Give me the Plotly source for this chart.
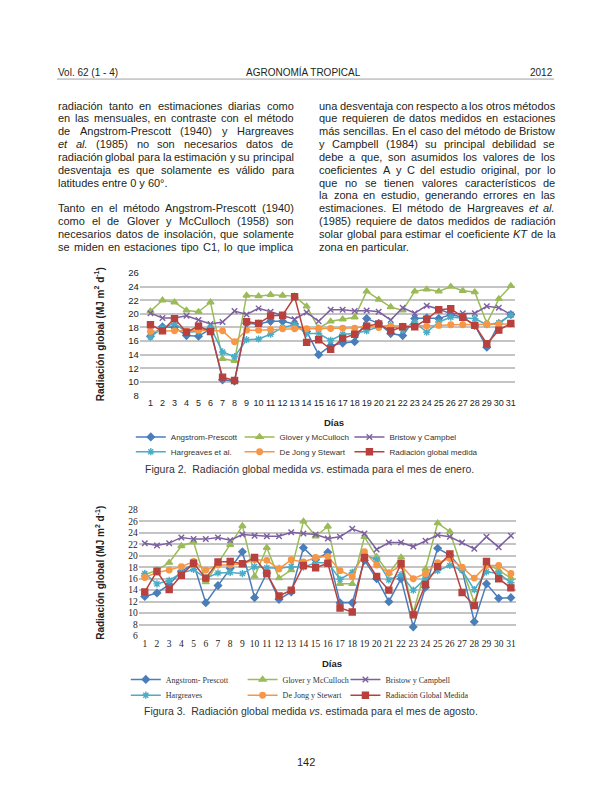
import plotly.graph_objects as go

# ---------------- data ----------------
days = list(range(1, 32))

jan_angstrom = [16.7, 18.1, 18.0, 16.8, 16.7, 17.8, 10.3, 10.1, 18.6, 18.5, 18.9, 18.9, 18.5, 17.4, 14.0, 15.3,
                15.7, 15.9, 19.3, 18.6, 17.1, 16.8, 19.3, 19.4, 19.3, 19.9, 19.5, 18.3, 15.1, 18.5, 19.9]
jan_glover = [20.4, 22.0, 21.7, 20.5, 20.3, 21.7, 13.4, 13.1, 22.7, 22.6, 22.8, 22.7, 22.6, 21.1, 17.9, 18.9,
              19.2, 19.5, 23.3, 22.1, 21.0, 20.5, 23.3, 23.6, 23.3, 24.0, 23.4, 23.2, 18.6, 22.2, 24.1]
jan_bristow = [20.1, 19.4, 19.4, 19.7, 19.1, 18.5, 18.8, 20.4, 19.9, 20.8, 20.3, 19.7, 19.2, 20.2, 18.9, 20.6,
               20.6, 20.4, 20.5, 20.3, 19.1, 20.9, 20.1, 21.2, 20.7, 20.0, 20.1, 20.1, 21.1, 20.9, 19.9]
jan_hargreaves = [16.6, 17.9, 18.6, 17.3, 17.4, 18.0, 14.4, 13.7, 16.2, 16.3, 17.0, 18.0, 18.4, 17.1, 17.1, 16.1,
                  17.0, 17.1, 17.5, 18.1, 18.3, 17.6, 18.8, 17.3, 18.8, 19.5, 19.4, 19.3, 18.4, 18.7, 19.8]
jan_dejong = [17.4, 17.5, 17.5, 17.5, 17.6, 17.5, 17.5, 15.9, 17.6, 17.6, 17.7, 17.8, 17.8, 17.8, 17.85, 17.85,
              17.9, 17.9, 18.2, 18.0, 18.2, 18.2, 18.2, 18.2, 18.3, 18.4, 18.4, 18.4, 18.5, 18.5, 18.5]
jan_medida = [18.4, 17.5, 19.3, 17.3, 18.2, 17.4, 10.7, 10.2, 18.85, 18.6, 19.7, 19.8, 22.5, 15.8, 16.2, 14.8,
              16.4, 17.0, 18.2, 18.5, 17.5, 18.1, 18.1, 19.2, 20.6, 20.75, 19.5, 18.3, 15.6, 17.6, 18.6]

aug_angstrom = [12.9, 13.5, 15.0, 17.3, 18.6, 11.8, 14.8, 17.8, 20.7, 12.7, 17.0, 12.4, 13.7, 21.4, 19.3, 20.6,
                11.8, 11.8, 19.2, 16.0, 12.0, 16.0, 7.6, 14.5, 21.3, 20.1, 17.6, 8.5, 15.1, 12.6, 12.7]
aug_glover = [16.7, 17.5, 18.8, 21.7, 22.4, 15.4, 18.7, 21.9, 25.2, 16.4, 21.4, 16.1, 17.5, 26.0, 23.4, 25.1,
              15.1, 15.1, 23.3, 19.8, 17.0, 19.7, 10.1, 17.7, 25.7, 24.2, 17.8, 11.9, 18.6, 17.5, 16.1]
aug_bristow = [22.2, 21.8, 22.2, 23.2, 22.9, 22.9, 23.2, 22.7, 23.7, 23.5, 23.4, 23.4, 24.1, 23.9, 23.7, 23.0,
               23.3, 24.7, 23.9, 21.1, 22.3, 22.3, 21.6, 22.6, 23.6, 23.3, 22.3, 21.2, 23.3, 21.5, 23.5]
aug_hargreaves = [16.9, 15.1, 15.7, 17.0, 17.6, 16.1, 17.0, 17.1, 16.9, 18.1, 17.9, 17.8, 18.1, 18.0, 18.8, 18.8,
                  15.9, 17.1, 20.2, 19.3, 15.8, 16.7, 14.0, 16.0, 17.4, 18.3, 17.5, 14.1, 17.2, 16.9, 15.3]
aug_dejong = [16.2, 17.1, 17.5, 18.1, 19.0, 17.5, 18.4, 18.4, 18.6, 19.3, 19.2, 17.7, 19.3, 18.9, 19.7, 19.9,
              17.4, 16.4, 20.7, 18.4, 17.0, 18.3, 16.0, 16.9, 18.8, 19.5, 18.0, 16.1, 18.3, 18.3, 16.9]
aug_medida = [13.7, 17.3, 14.1, 16.6, 18.7, 16.1, 18.9, 19.0, 18.6, 19.7, 16.9, 13.0, 14.0, 18.3, 17.9, 18.7,
              10.9, 10.2, 19.7, 16.4, 14.0, 18.6, 9.7, 15.0, 18.1, 20.3, 13.6, 11.3, 19.0, 16.0, 14.4]

names_jan = ["Angstrom-Prescott", "Glover y McCulloch", "Bristow y Campbel",
             "Hargreaves et al.", "De Jong y Stewart", "Radiación global medida"]
names_aug = ["Angstrom- Prescott", "Glover y McCulloch", "Bristow y Campbell",
             "Hargreaves", "De Jong y Stewart", "Radiación Global Medida"]

header_left = "Vol. 62 (1 - 4)"
header_center = "AGRONOMÍA TROPICAL"
header_right = "2012"
page_number = "142"
y_title = "<b>Radiación global (MJ m<sup>2</sup> d<sup>-1</sup>)</b>"
x_title = "<b>Días</b>"
caption_jan = "Figura 2.  Radiación global medida <i>vs</i>. estimada para el mes de enero."
caption_aug = "Figura 3.  Radiación global medida <i>vs</i>. estimada para el mes de agosto."

left_lines = [
    ("radiación tanto en estimaciones diarias como", True),
    ("en las mensuales, en contraste con el método", True),
    ("de Angstrom-Prescott (1940) y Hargreaves", True),
    ("<i>et</i> <i>al.</i> (1985) no son necesarios datos de", True),
    ("radiación global para la estimación y su principal", True),
    ("desventaja es que solamente es válido para", True),
    ("latitudes entre 0 y 60°.", False),
    None,
    ("Tanto en el método Angstrom-Prescott (1940)", True),
    ("como el de Glover y McCulloch (1958) son", True),
    ("necesarios datos de insolación, que solamente", True),
    ("se miden en estaciones tipo C1, lo que implica", True),
]
right_lines = [
    ("una desventaja con respecto a los otros métodos", True),
    ("que requieren de datos medidos en estaciones", True),
    ("más sencillas. En el caso del método de Bristow", True),
    ("y Campbell (1984) su principal debilidad se", True),
    ("debe a que, son asumidos los valores de los", True),
    ("coeficientes A y C del estudio original, por lo", True),
    ("que no se tienen valores característicos de", True),
    ("la zona en estudio, generando errores en las", True),
    ("estimaciones. El método de Hargreaves <i>et</i> <i>al.</i>", True),
    ("(1985) requiere de datos medidos de radiación", True),
    ("solar global para estimar el coeficiente <i>KT</i> de la", True),
    ("zona en particular.", False),
]

# ---------------- helpers ----------------
# The page body keeps its default 8 px margin, so the figure is 16 px smaller
# than the 612x792 window and page coordinates are shifted by 8 px.
OFF = 8
W, H = 612 - 2 * OFF, 792 - 2 * OFF
def px(x): return (x - OFF) / W
def py(y): return 1 - (y - OFF) / H

AW = {' ': 278, '!': 278, '(': 333, ')': 333, ',': 278, '-': 333, '.': 278, ':': 278, ';': 278, '°': 400,
      'A': 667, 'B': 667, 'C': 722, 'D': 722, 'E': 667, 'F': 611, 'G': 778, 'H': 722, 'I': 278, 'J': 500,
      'K': 667, 'L': 556, 'M': 833, 'N': 722, 'O': 778, 'P': 667, 'Q': 778, 'R': 722, 'S': 667, 'T': 611,
      'U': 722, 'V': 667, 'W': 944, 'X': 667, 'Y': 667, 'Z': 611,
      'a': 556, 'b': 556, 'c': 500, 'd': 556, 'e': 556, 'f': 278, 'g': 556, 'h': 556, 'i': 222, 'j': 222,
      'k': 500, 'l': 222, 'm': 833, 'n': 556, 'o': 556, 'p': 556, 'q': 556, 'r': 333, 's': 500, 't': 278,
      'u': 556, 'v': 500, 'w': 722, 'x': 500, 'y': 500, 'z': 500,
      'á': 556, 'é': 556, 'í': 278, 'ó': 556, 'ú': 556, 'ñ': 556}

def tw(s, size):
    s = s.replace('<i>', '').replace('</i>', '')
    return sum(AW.get(c, 556) for c in s) * size / 1000

SANS = "Liberation Sans, Arial, sans-serif"
SERIF = "Liberation Serif, Times New Roman, serif"
TEXT_C = "#231f20"
BODY_SIZE = 11

annotations = []
def add_text(text, x, y, size=BODY_SIZE, color=TEXT_C, xanchor="left", family=SANS, angle=0):
    annotations.append(dict(text=text, x=px(x), y=py(y), xref="paper", yref="paper", showarrow=False,
                            xanchor=xanchor, yanchor="middle", textangle=angle, borderpad=0,
                            font=dict(family=family, size=size, color=color)))

def column(lines, x0, x1, y0, step):
    for i, item in enumerate(lines):
        if item is None:
            continue
        text, just = item
        y = y0 + i * step
        words = text.split(' ')
        if just and len(words) > 1:
            widths = [tw(w, BODY_SIZE) for w in words]
            gap = (x1 - x0 - sum(widths)) / (len(words) - 1)
            x = x0
            for wd, w in zip(words, widths):
                add_text(wd, x, y)
                x += w + gap
        else:
            add_text(text, x0, y)

column(left_lines, 57, 293, 101, 13.0)
column(right_lines, 319, 555, 101, 13.0)

# header, footer
add_text(header_left, 57, 67, size=10)
add_text(header_center, 304, 67, size=10, xanchor="center")
add_text(header_right, 555, 67, size=10, xanchor="right")
add_text(page_number, 306, 767, size=11, xanchor="center")

# axis titles / captions
add_text(y_title, 100, 333, size=10, xanchor="center", angle=-90, color="#222")
add_text(y_title, 100, 575, size=10, xanchor="center", angle=-90, color="#222")
add_text(x_title, 335, 422, size=9.5, xanchor="center", color="#222")
add_text(x_title, 333, 667, size=9.5, xanchor="center", color="#222")
add_text(caption_jan, 310, 470, size=10.5, xanchor="center", color="#333")
add_text(caption_aug, 312, 715, size=10.5, xanchor="center", color="#333")

# ---------------- figure ----------------
colors = ["#4A7EBB", "#9BBB59", "#7D60A0", "#4BACC6", "#F79646", "#B8413E"]
symbols = ["diamond", "triangle-up", "x-thin-open", "asterisk-open", "circle", "square"]
sizes = [5.5, 6, 5.5, 6, 5.5, 6]

fig = go.Figure()

jan_series = [jan_angstrom, jan_glover, jan_bristow, jan_hargreaves, jan_dejong, jan_medida]
aug_series = [aug_angstrom, aug_glover, aug_bristow, aug_hargreaves, aug_dejong, aug_medida]

def leg(n):
    return "legend" if n == 1 else "legend%d" % n

for k, (vals, nm) in enumerate(zip(jan_series, names_jan)):
    mk = dict(symbol=symbols[k], size=sizes[k], color=colors[k], line=dict(width=1.4, color=colors[k]))
    fig.add_trace(go.Scatter(x=days, y=vals, name=nm, mode="lines+markers", xaxis="x", yaxis="y",
                             line=dict(color=colors[k], width=1.5), marker=mk, legend=leg(k + 1),
                             hoverinfo="skip"))
for k, (vals, nm) in enumerate(zip(aug_series, names_aug)):
    mk = dict(symbol=symbols[k], size=sizes[k], color=colors[k], line=dict(width=1.4, color=colors[k]))
    fig.add_trace(go.Scatter(x=days, y=vals, name=nm, mode="lines+markers", xaxis="x2", yaxis="y2",
                             line=dict(color=colors[k], width=1.5), marker=mk, legend=leg(k + 7),
                             hoverinfo="skip"))

# legend positions (text start x, row y) in page pixels
leg_text_jan = [(172, 437), (281, 437), (391, 437), (172, 452), (281, 452), (391, 452)]
leg_text_aug = [(167, 683), (284, 683), (387, 683), (167, 699), (284, 699), (387, 699)]
legends = {}
for k, (tx, ty) in enumerate(leg_text_jan + leg_text_aug):
    fam = SANS if k < 6 else SERIF
    legends[leg(k + 1)] = dict(x=px(tx - 41), y=py(ty), xanchor="left", yanchor="middle",
                              xref="paper", yref="paper", bgcolor="rgba(0,0,0,0)", borderwidth=0,
                              font=dict(family=fam, size=8, color="#333"), itemwidth=30,
                              tracegroupgap=0)

grid_c = "#c4c4c4"
fig.update_layout(
    width=W, height=H, margin=dict(l=0, r=0, t=0, b=0),
    paper_bgcolor="white", plot_bgcolor="white",
    showlegend=True,
    annotations=annotations,
    xaxis=dict(domain=[px(140), px(516)], range=[0.11, 31.36], tickmode="linear", tick0=1, dtick=1,
               tickangle=0, showgrid=False, zeroline=False, showline=False, ticks="",
               tickfont=dict(family=SANS, size=9, color="#222"), anchor="y", fixedrange=True),
    yaxis=dict(domain=[py(395), py(270.7)], range=[8, 26], tickmode="linear", tick0=8, dtick=2,
               showgrid=True, gridcolor=grid_c, gridwidth=1.5, zeroline=False, showline=False, ticks="",
               tickfont=dict(family=SANS, size=9.5, color="#222"), anchor="x", fixedrange=True),
    xaxis2=dict(domain=[px(139), px(517)], range=[0.51, 31.43], tickmode="linear", tick0=1, dtick=1,
                tickangle=0, showgrid=False, zeroline=False, showline=False, ticks="",
                tickfont=dict(family=SERIF, size=9.5, color="#222"), anchor="y2", fixedrange=True),
    yaxis2=dict(domain=[py(639), py(511)], range=[6, 28], tickmode="linear", tick0=6, dtick=2,
                showgrid=True, gridcolor=grid_c, gridwidth=1.8, zeroline=False, showline=False, ticks="",
                tickfont=dict(family=SERIF, size=9.5, color="#222"), anchor="x2", fixedrange=True),
    shapes=[dict(type="line", xref="paper", yref="paper", x0=px(57), x1=px(555), y0=py(74), y1=py(74),
                 line=dict(color="#888", width=0.8))],
    **legends,
)

fig.write_html("out.html")
